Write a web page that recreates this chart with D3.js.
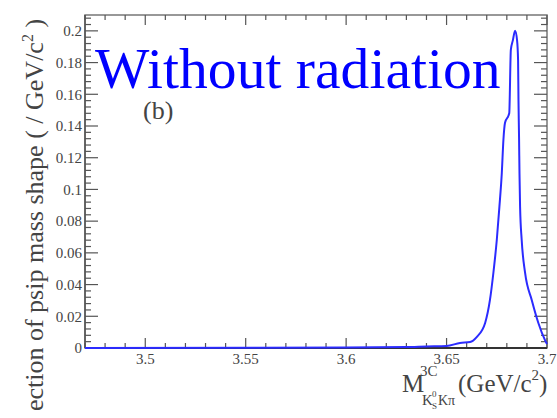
<!DOCTYPE html>
<html><head><meta charset="utf-8">
<script src="https://cdn.jsdelivr.net/npm/d3@7"></script>
<style>body{margin:0;background:#fff}svg{display:block}</style>
</head><body>
<svg id="c" width="557" height="418"></svg>
<script>
// Data
const massX = [3.47, 3.60, 3.63, 3.64, 3.65, 3.6567, 3.6617, 3.665, 3.6692, 3.6716, 3.6733, 3.675, 3.6763, 3.6775, 3.6783, 3.6791, 3.6812, 3.682, 3.683, 3.6841, 3.6851, 3.6856, 3.6858, 3.6861, 3.6863, 3.6866, 3.6874, 3.6891, 3.6924, 3.6957, 3.699, 3.70];
const shapeY = [0, 0.0003, 0.0006, 0.001, 0.0013, 0.0032, 0.0038, 0.0069, 0.0158, 0.0303, 0.0473, 0.0681, 0.089, 0.1104, 0.1312, 0.142, 0.148, 0.188, 0.194, 0.2, 0.194, 0.1817, 0.1565, 0.1312, 0.1104, 0.089, 0.0681, 0.0473, 0.0303, 0.0158, 0.005, 0.0025];
const xTicks = [3.5, 3.55, 3.6, 3.65, 3.7];
const xTickLabels = ["3.5", "3.55", "3.6", "3.65", "3.7"];
const yTicks = [0, 0.02, 0.04, 0.06, 0.08, 0.1, 0.12, 0.14, 0.16, 0.18, 0.2];
const yTickLabels = ["0", "0.02", "0.04", "0.06", "0.08", "0.1", "0.12", "0.14", "0.16", "0.18", "0.2"];

const svg = d3.select("#c");
const L = 85, R = 547, T = 15, B = 348;
const x = d3.scaleLinear().domain([3.47, 3.7]).range([L, R]);
const y = d3.scaleLinear().domain([0, 0.21]).range([B, T]);
const serif = "'Liberation Serif','Times New Roman',serif";
const axisCol = "#555";

// frame
svg.append("rect").attr("x", L).attr("y", T).attr("width", R - L).attr("height", B - T)
  .attr("fill", "none").attr("stroke", "#777").attr("stroke-width", 1.5);

// minor/major ticks
const xMinor = d3.range(3.47, 3.7001, 0.01).map(v => +v.toFixed(3));
const yMinor = d3.range(0, 0.2101, 0.004).map(v => +v.toFixed(4));
const g = svg.append("g").attr("stroke", axisCol).attr("stroke-width", 1.2);
xMinor.forEach(v => {
  const major = xTicks.some(t => Math.abs(t - v) < 1e-6);
  const len = major ? 10 : 5;
  g.append("line").attr("x1", x(v)).attr("x2", x(v)).attr("y1", B).attr("y2", B - len);
  g.append("line").attr("x1", x(v)).attr("x2", x(v)).attr("y1", T).attr("y2", T + len);
});
yMinor.forEach(v => {
  const major = yTicks.some(t => Math.abs(t - v) < 1e-6);
  const len = major ? 13 : 6;
  g.append("line").attr("x1", L).attr("x2", L + len).attr("y1", y(v)).attr("y2", y(v));
  g.append("line").attr("x1", R).attr("x2", R - len).attr("y1", y(v)).attr("y2", y(v));
});
svg.append("line").attr("x1", L).attr("x2", R).attr("y1", B).attr("y2", B).attr("stroke", "#333").attr("stroke-width", 2);
svg.append("line").attr("x1", L).attr("x2", L).attr("y1", T).attr("y2", B).attr("stroke", "#555").attr("stroke-width", 1.5);

// tick labels
xTicks.forEach((v, i) => {
  svg.append("text").attr("x", x(v)).attr("y", 364).attr("text-anchor", "middle")
    .attr("font-family", serif).attr("font-size", 15).attr("fill", "#444").text(xTickLabels[i]);
});
yTicks.forEach((v, i) => {
  svg.append("text").attr("x", 82).attr("y", y(v)).attr("dy", "0.35em").attr("text-anchor", "end")
    .attr("font-family", serif).attr("font-size", 15).attr("fill", "#444").text(yTickLabels[i]);
});

// curve
const line = d3.line().x((d, i) => x(massX[i])).y(d => y(d)).curve(d3.curveMonotoneX);
svg.append("path").attr("d", line(shapeY)).attr("fill", "none")
  .attr("stroke", "#2b2bff").attr("stroke-width", 2);

// texts
svg.append("text").attr("x", 95).attr("y", 88).attr("font-family", serif).attr("font-size", 57.6)
  .attr("fill", "#0000ff").text("Without radiation");
svg.append("text").attr("x", 143).attr("y", 119).attr("font-family", serif).attr("font-size", 26)
  .attr("fill", "#444").text("(b)");

// y title
const yt = svg.append("text").attr("transform", "translate(43,215) rotate(-90)").attr("text-anchor", "middle")
  .attr("font-family", serif).attr("font-size", 26).attr("fill", "#444");
yt.append("tspan").text("ection of psip mass shape ( / GeV/c");
yt.append("tspan").attr("font-size", 16).attr("dy", -10).text("2");
yt.append("tspan").attr("dy", 10).text(" )");

// x title
const xt = svg.append("text").attr("font-family", serif).attr("fill", "#444");
xt.append("tspan").attr("x", 402).attr("y", 392).attr("font-size", 25).text("M");
xt.append("tspan").attr("x", 420).attr("y", 376).attr("font-size", 15).text("3C");
xt.append("tspan").attr("x", 422).attr("y", 405).attr("font-size", 15).text("K");
xt.append("tspan").attr("x", 432).attr("y", 397).attr("font-size", 9).text("0");
xt.append("tspan").attr("x", 432).attr("y", 409).attr("font-size", 9).text("S");
xt.append("tspan").attr("x", 438).attr("y", 405).attr("font-size", 14).text("Kπ");
xt.append("tspan").attr("x", 458).attr("y", 392).attr("font-size", 25).text("(GeV/c");
xt.append("tspan").attr("dy", -12).attr("font-size", 15).text("2");
xt.append("tspan").attr("dy", 12).attr("font-size", 25).text(")");
</script>
</body></html>
